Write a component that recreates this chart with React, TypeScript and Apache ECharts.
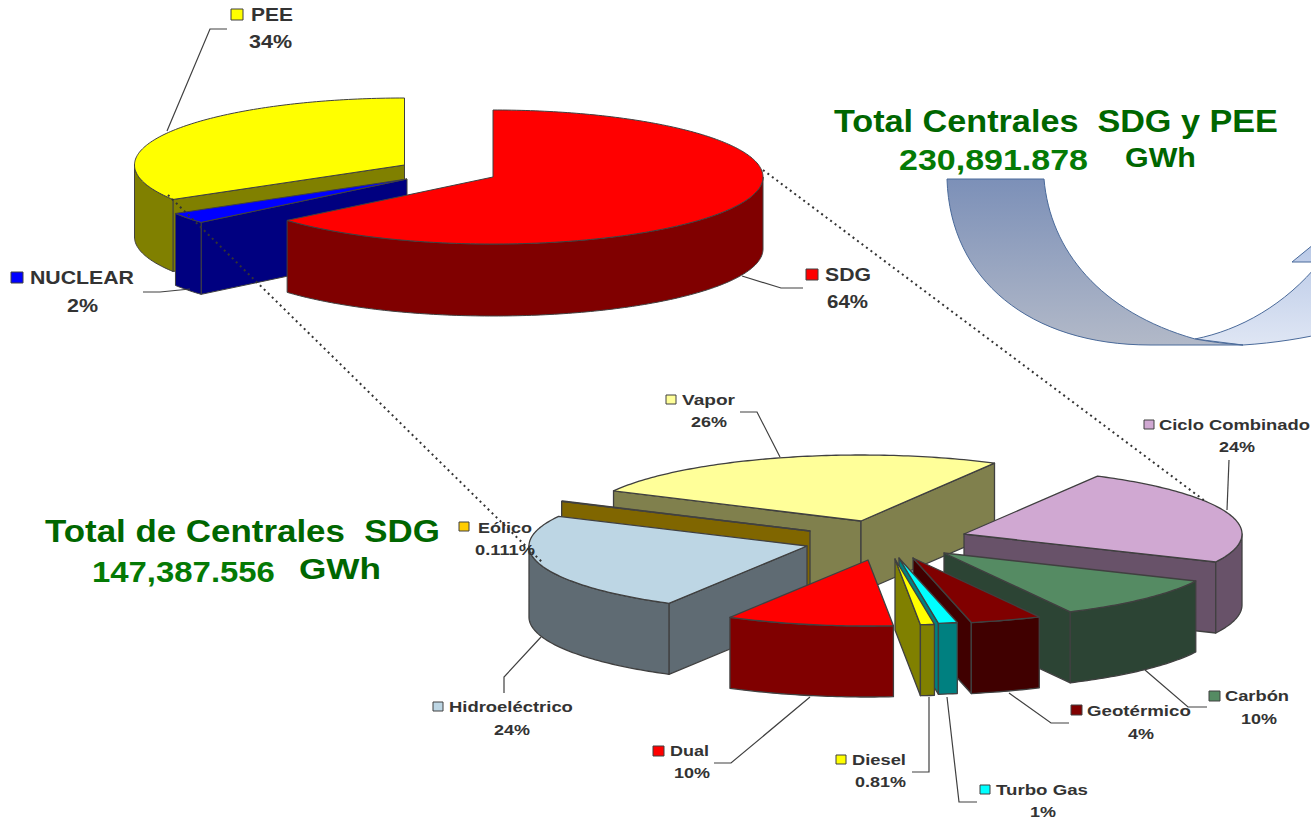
import React, { useEffect, useRef } from "react";
import * as echarts from "echarts";

// ---------- data ----------
const topNames = ["SDG", "NUCLEAR", "PEE"];
const topValues = [63.8, 2.6, 33.6];
const topLabels = ["64%", "2%", "34%"];

const lowNames = ["Ciclo Combinado", "Carbón", "Geotérmico", "Turbo Gas", "Diesel", "Dual", "Hidroeléctrico", "Eólico", "Vapor"];
const lowValues = [24.05, 10.55, 4.15, 1.1, 0.81, 9.75, 24.2, 0.111, 25.5];
const lowLabels = ["24%", "10%", "4%", "1%", "0.81%", "10%", "24%", "0.111%", "26%"];

const titleOne = ["Total Centrales  SDG y PEE", "230,891.878", "GWh"];
const titleTwo = ["Total de Centrales  SDG", "147,387.556", "GWh"];

// ---------- styles / layout ----------
const topTop = ["#FF0000", "#0000FF", "#FFFF00"];
const topWall = ["#800000", "#000080", "#808000"];
const lowTop = ["#D0A8D2", "#558B63", "#800000", "#00FFFF", "#FFFF00", "#FF0000", "#BDD6E4", "#FFCC00", "#FFFF99"];
const lowWall = ["#685269", "#2C4434", "#400000", "#008080", "#808000", "#800000", "#5F6B73", "#806600", "#80804D"];

const topPie = { rx: 270, ry: 67, depth: 72, start: 0, stroke: "#404040", lineWidth: 1,
  apex: [[493, 177], [407, 179], [404.5, 165]], order: [2, 1, 0] };
const lowPie = { rx: 278, ry: 66, depth: 71, start: 28.7, stroke: "#404040", lineWidth: 1.3,
  apex: [[964, 534], [944, 553], [913, 558], [899, 558], [895, 559], [868, 560], [807, 546], [810, 531], [861, 521]],
  order: [8, 0, 7, 6, 1, 2, 3, 4, 5] };

// [key x, key y, key size, name x, name width, name y, pct x, pct width, pct y, font size]
const topLabelBoxes = [
  [806, 269, 12, 825, 46, 275, 827, 41, 302, 18],
  [11, 272, 12, 30, 104, 278, 67, 31, 306, 18],
  [231, 9, 12, 251, 42, 15, 249, 43, 42, 18],
];
const lowLabelBoxes = [
  [1144, 420, 10, 1159, 151, 425, 1219, 36, 447, 15.5],
  [1209, 691, 11, 1225, 64, 696, 1241, 36, 719, 15.5],
  [1071, 705, 11, 1087, 104, 711, 1128, 26, 734, 15.5],
  [980, 785, 10, 996, 92, 790, 1030, 26, 812, 15.5],
  [836, 755, 10, 852, 54, 760, 855, 51, 782, 15.5],
  [653, 746, 11, 670, 39, 751, 674, 36, 773, 15.5],
  [433, 702, 10, 449, 124, 707, 494, 36, 730, 15.5],
  [459, 522, 10, 478, 54, 528, 475, 60, 550, 15.5],
  [666, 395, 10, 682, 53, 400, 691, 36, 422, 15.5],
];
const leaders = [
  [[227, 29], [210, 29], [167, 131]],
  [[143, 292], [160, 292], [190, 289]],
  [[803, 288], [781, 288], [742, 276]],
  [[740, 412], [757, 412], [780, 457]],
  [[1229, 460], [1227, 510]],
  [[504, 693], [504, 677], [541, 637]],
  [[714, 763], [731, 763], [810, 697]],
  [[912, 772], [929, 772], [929, 697]],
  [[977, 802], [959, 802], [947, 697]],
  [[1069, 723], [1051, 723], [1009, 693]],
  [[1207, 707], [1188, 707], [1145, 670]],
];
const dotted = [
  [[168, 195], [543, 563]],
  [[763, 170], [1205, 501]],
];
const GREEN = "#006600";
const FONT = '"Liberation Sans", Arial, sans-serif';
// [text, x, width, y, size, colour]
const titleBoxes = [
  [titleOne[0], 834, 444, 121, 31, GREEN],
  [titleOne[1], 899, 189, 160, 30, "#057A05"],
  [titleOne[2], 1125, 71, 158, 27, GREEN],
  [titleTwo[0], 45, 395, 531, 31, GREEN],
  [titleTwo[1], 92, 183, 572, 30, "#057A05"],
  [titleTwo[2], 299, 82, 568, 30, GREEN],
];

const ctx = document.createElement("canvas").getContext("2d")!;
function fitScale(text: string, size: number, width: number) {
  ctx.font = `bold ${size}px "Liberation Sans"`;
  return width / ctx.measureText(text).width;
}
function textEl(text: string, x: number, w: number, y: number, size: number, fill: string) {
  return {
    type: "text", x, y, scaleX: fitScale(text, size, w), z: 100, silent: true,
    style: { text, x: 0, y: 0, fill, fontFamily: FONT, fontWeight: "bold", fontSize: size, align: "left", verticalAlign: "middle" },
  };
}

const rad = (d: number) => (d * Math.PI) / 180;

function sliceAngles(values: number[], start: number) {
  const total = values.reduce((a, b) => a + b, 0);
  let acc = start;
  return values.map((v) => {
    const a0 = acc;
    acc += (v / total) * 360;
    return [a0, acc];
  });
}

function makeRenderer(pie: typeof topPie, values: number[], tops: string[], walls: string[]) {
  const angles = sliceAngles(values, pie.start);
  return (_params: any, api: any) => {
    const i = api.value(0) as number;
    const [cx, cy] = pie.apex[i];
    const [a0, a1] = angles[i];
    const rim = (a: number) => [cx + pie.rx * Math.sin(rad(a)), cy - pie.ry * Math.cos(rad(a))];
    const drop = (p: number[]) => [p[0], p[1] + pie.depth];
    const style = (fill: string) => ({ fill, stroke: pie.stroke, lineWidth: pie.lineWidth, lineJoin: "round" });
    const children: any[] = [];
    const wall = (a: number) => {
      const p = rim(a);
      children.push({ type: "polygon", shape: { points: [[cx, cy], p, drop(p), [cx, cy + pie.depth]] }, style: style(walls[i]) });
    };
    if (Math.sin(rad(a0)) < 0) wall(a0);
    if (Math.sin(rad(a1)) > 0) wall(a1);
    const from = Math.max(a0, 90);
    const to = Math.min(a1, 270);
    if (to > from) {
      const arc: number[][] = [];
      const n = Math.max(2, Math.ceil(to - from));
      for (let k = 0; k <= n; k++) arc.push(rim(from + ((to - from) * k) / n));
      children.push({ type: "polygon", shape: { points: [...arc, ...arc.slice().reverse().map(drop)] }, style: style(walls[i]) });
    }
    const face: number[][] = [[cx, cy]];
    const m = Math.max(2, Math.ceil(a1 - a0));
    for (let k = 0; k <= m; k++) face.push(rim(a0 + ((a1 - a0) * k) / m));
    children.push({ type: "polygon", shape: { points: face }, style: style(tops[i]) });
    return { type: "group", children };
  };
}

function labelEls(names: string[], pcts: string[], boxes: number[][], colors: string[]) {
  const out: any[] = [];
  names.forEach((name, i) => {
    const [kx, ky, ks, nx, nw, ny, px, pw, py, size] = boxes[i];
    out.push({ type: "rect", z: 100, silent: true, shape: { x: kx, y: ky, width: ks, height: ks - 1 }, style: { fill: colors[i], stroke: "#404040", lineWidth: 1 } });
    out.push(textEl(name, nx, nw, ny, size, "#333333"));
    out.push(textEl(pcts[i], px, pw, py, size, "#333333"));
  });
  return out;
}

echarts.graphic.registerShape("arrowBack", echarts.graphic.extendPath(
  "M1195 339 C1240 330 1285 305 1320 262 L1292 262 L1330 231 L1330 332 C1305 338 1275 343 1243 345 Z", {}) as any);
echarts.graphic.registerShape("arrowFront", echarts.graphic.extendPath(
  "M947 179 L1044 179 C1050 250 1100 312 1195 339 C1212 342 1228 344 1243 345 L1150 345 C1030 345 950 280 947 179 Z", {}) as any);

export default function App() {
  const ref = useRef<HTMLDivElement>(null);
  useEffect(() => {
    const chart = echarts.init(ref.current!, undefined, { renderer: "svg" });
    const arrowStroke = "#4A6A9A";
    const lg = (a: string, b: string) => ({ type: "linear", x: 0, y: 0, x2: 0, y2: 1, colorStops: [{ offset: 0, color: a }, { offset: 1, color: b }] });
    chart.setOption({
      animation: false,
      backgroundColor: "#FFFFFF",
      graphic: [
        { type: "arrowBack", z: 1, silent: true, style: { fill: lg("#B4C5E5", "#DFE6F4"), stroke: arrowStroke, lineWidth: 1 } },
        { type: "arrowFront", z: 1, silent: true, style: { fill: lg("#7C90B8", "#B2B9C8"), stroke: arrowStroke, lineWidth: 1 } },
        ...leaders.map((pts) => ({ type: "polyline", z: 90, silent: true, shape: { points: pts }, style: { stroke: "#404040", lineWidth: 1.2, fill: "none" } })),
        ...dotted.map((pts) => ({ type: "line", z: 95, silent: true, shape: { x1: pts[0][0], y1: pts[0][1], x2: pts[1][0], y2: pts[1][1] }, style: { stroke: "#333333", lineWidth: 2, lineDash: [2, 3.6] } })),
        ...labelEls(topNames, topLabels, topLabelBoxes, topTop),
        ...labelEls(lowNames, lowLabels, lowLabelBoxes, lowTop),
        ...titleBoxes.map((t) => textEl(t[0] as string, t[1] as number, t[2] as number, t[3] as number, t[4] as number, t[5] as string)),
      ],
      series: [
        {
          type: "custom", coordinateSystem: "none", silent: true, z: 2,
          renderItem: makeRenderer(topPie, topValues, topTop, topWall),
          data: topPie.order.map((i) => [i, topValues[i]]),
        },
        {
          type: "custom", coordinateSystem: "none", silent: true, z: 3,
          renderItem: makeRenderer(lowPie, lowValues, lowTop, lowWall),
          data: lowPie.order.map((i) => [i, lowValues[i]]),
        },
      ],
    });
    return () => chart.dispose();
  }, []);
  return <div ref={ref} style={{ position: "fixed", left: 0, top: 0, width: 1311, height: 820 }} />;
}
